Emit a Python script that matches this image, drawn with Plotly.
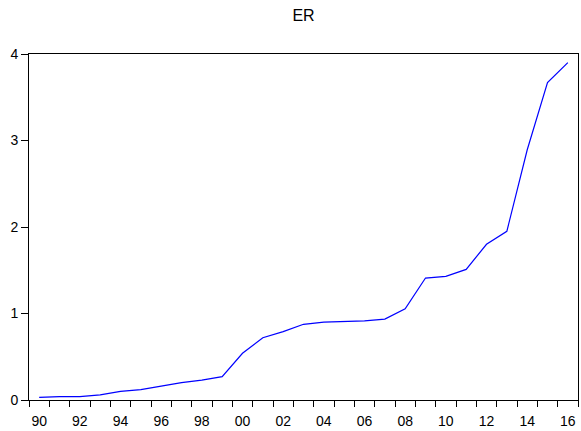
import plotly.graph_objects as go

years = list(range(1990, 2017))
er = [0.03, 0.04, 0.04, 0.06, 0.10, 0.12, 0.16, 0.20, 0.23, 0.27,
      0.54, 0.72, 0.79, 0.875, 0.90, 0.905, 0.915, 0.936, 1.055, 1.41,
      1.43, 1.51, 1.80, 1.95, 2.89, 3.67, 3.90]
label_years = list(range(1990, 2017, 2))
label_text = [f"{y % 100:02d}" for y in label_years]
y_ticks = [0, 1, 2, 3, 4]

fig = go.Figure()
fig.add_trace(go.Scatter(x=years, y=er, mode="lines",
                         line=dict(color="#0000ff", width=1.2),
                         showlegend=False))

fig.update_layout(
    width=581, height=431,
    margin=dict(l=29, r=3, t=54, b=31),
    paper_bgcolor="white", plot_bgcolor="white",
    font=dict(family="Liberation Sans, Arial, sans-serif", size=14, color="black"),
    title=dict(text="ER", x=0.5, xref="paper", xanchor="center", y=0.965, yanchor="middle",
               font=dict(size=16, color="black")),
    xaxis=dict(range=[1989.5, 2016.5], tickmode="array", tickvals=label_years,
               ticktext=label_text, ticks="", showgrid=False, zeroline=False,
               showline=True, linecolor="black", linewidth=1, mirror=True,
               tickfont=dict(size=14), ticklabelstandoff=8,
               minor=dict(tickmode="linear", tick0=1989.5, dtick=1, ticks="outside",
                          ticklen=6, tickcolor="black", tickwidth=1, showgrid=False)),
    yaxis=dict(range=[0, 4], tickmode="array", tickvals=y_ticks, ticks="outside",
               ticklen=7, tickcolor="black", showgrid=False, zeroline=False,
               showline=True, linecolor="black", linewidth=1, mirror=True,
               tickfont=dict(size=14)),
)

fig.write_html("out.html")
